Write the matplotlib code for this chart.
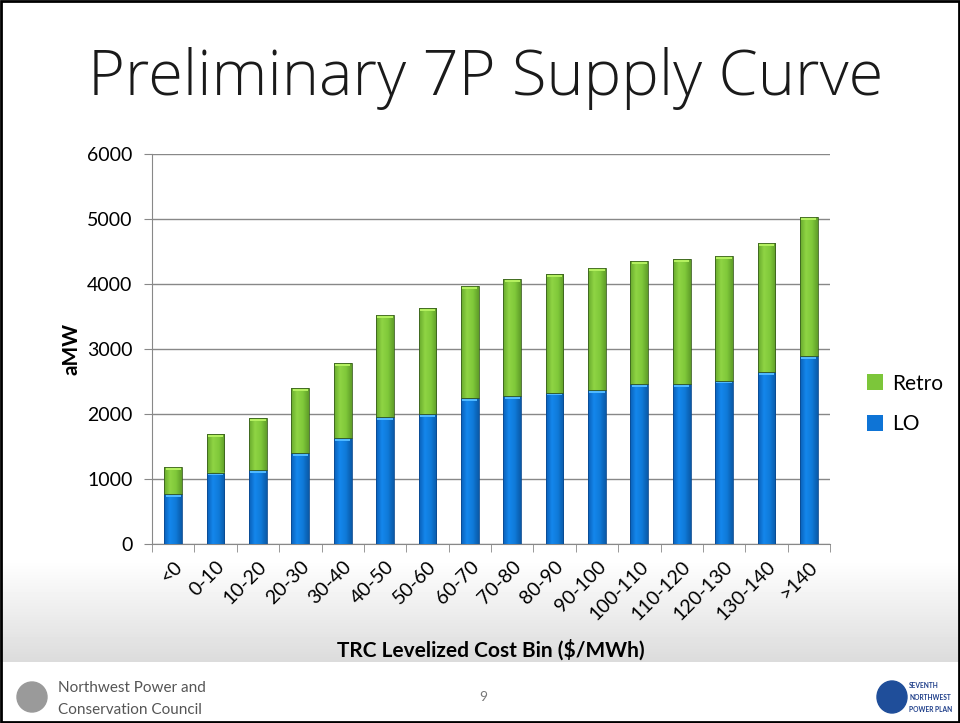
import numpy as np
import matplotlib
matplotlib.use("Agg")
import matplotlib.pyplot as plt
from matplotlib.patches import Rectangle, Ellipse
from matplotlib.colors import LinearSegmentedColormap

categories = ["<0", "0-10", "10-20", "20-30", "30-40", "40-50", "50-60", "60-70",
              "70-80", "80-90", "90-100", "100-110", "110-120", "120-130", "130-140", ">140"]
lo = [770, 1100, 1140, 1395, 1636, 1960, 2000, 2240, 2280, 2330, 2370, 2460, 2465, 2515, 2650, 2890]
total = [1185, 1687, 1933, 2395, 2780, 3523, 3626, 3974, 4072, 4149, 4251, 4359, 4380, 4431, 4636, 5036]
retro = [t - l for t, l in zip(total, lo)]
yticks = [0, 1000, 2000, 3000, 4000, 5000, 6000]

FONT = ["Lato", "DejaVu Sans"]
plt.rcParams["font.family"] = FONT

W, H = 960, 723
fig = plt.figure(figsize=(W / 100, H / 100), dpi=100)

# background with gradient band
bg = fig.add_axes([0, 0, 1, 1], zorder=-10)
bg.set_axis_off()
rows = np.ones((H, 1))
for r in range(H):
    if 560 <= r < 662:
        t = (r - 560) / (662 - 560)
        rows[r, 0] = 1 - 0.14 * t
cm_gray = LinearSegmentedColormap.from_list("g", ["black", "white"])
bg.imshow(rows, aspect="auto", cmap=cm_gray, vmin=0, vmax=1, extent=[0, 1, 0, 1], origin="upper")
bg.set_xlim(0, 1)
bg.set_ylim(0, 1)

# main axes
ax = fig.add_axes([152 / W, 1 - 544 / H, (830 - 152) / W, (544 - 154) / H])
ax.set_facecolor("none")
x = np.arange(len(categories))
width = 0.42
b_lo = ax.bar(x, lo, width, color="#0e74d6", label="LO", zorder=3)
b_re = ax.bar(x, retro, width, bottom=lo, color="#7cc63a", label="Retro", zorder=3)

blue_cm = LinearSegmentedColormap.from_list("b", ["#0a5fb8", "#1487ec", "#0f7ad9", "#0a5aa8"])
green_cm = LinearSegmentedColormap.from_list("gr", ["#67a92c", "#8fd444", "#80c93a", "#5f9e28"])
grad = np.linspace(0, 1, 64).reshape(1, -1)
for bars, cmap, cap in ((b_lo, blue_cm, "#4fb8ff"), (b_re, green_cm, "#b4f060")):
    for p in bars:
        x0, y0 = p.get_x(), p.get_y()
        w, h = p.get_width(), p.get_height()
        im = ax.imshow(grad, aspect="auto", cmap=cmap, extent=[x0, x0 + w, y0, y0 + h], zorder=4)
        im.set_clip_path(p)
        ax.add_patch(Rectangle((x0 + 0.03, y0 + h - 45), w - 0.06, 40, color=cap, zorder=5, lw=0))
        ax.add_patch(Rectangle((x0, y0), w, h, fill=False, ec="#3a5f1f" if cmap is green_cm else "#0a4a90",
                               lw=0.6, zorder=6))

ax.set_xlim(-0.5, len(categories) - 0.5)
ax.set_ylim(0, 6000)
ax.set_yticks(yticks)
ax.set_yticklabels([str(v) for v in yticks], fontsize=14)
ax.grid(axis="y", color="#888888", lw=1, zorder=0)
ax.set_axisbelow(True)
ax.set_xticks(x)
ax.set_xticklabels(categories, rotation=45, ha="right", rotation_mode="anchor", fontsize=14)
ax.tick_params(axis="x", length=0, pad=10)
ax.set_xticks(np.arange(-0.5, len(categories), 1), minor=True)
ax.tick_params(axis="x", which="minor", length=6, color="#888888", direction="out")
ax.tick_params(axis="y", length=6, color="#888888", direction="out", pad=8)
for s in ["top", "right"]:
    ax.spines[s].set_visible(False)
for s in ["left", "bottom"]:
    ax.spines[s].set_color("#888888")
ax.set_ylabel("aMW", fontsize=15, fontweight="bold", labelpad=4)
ax.set_xlabel("TRC Levelized Cost Bin ($/MWh)", fontsize=15, fontweight="bold", labelpad=12)

# legend
handles, labels = ax.get_legend_handles_labels()
leg = fig.legend(handles[::-1], labels[::-1], loc="center left", bbox_to_anchor=(848 / W, 1 - 404 / H),
                 frameon=False, fontsize=15, handlelength=0.8, handleheight=0.8, labelspacing=1.0,
                 handletextpad=0.4)

# title
fig.text(486 / W, 1 - 78 / H, "Preliminary 7P Supply Curve", ha="center", va="center",
         fontsize=45.5, fontweight=300, family=["Open Sans", "DejaVu Sans"], color="#1a1a1a")

# footer
fig.patches.append(Ellipse((32 / W, 1 - 697 / H), 30 / W, 30 / H, transform=fig.transFigure,
                           color="#9a9a9a", zorder=5))
fig.text(58 / W, 1 - 688 / H, "Northwest Power and", fontsize=11, color="#555555", va="center")
fig.text(58 / W, 1 - 710 / H, "Conservation Council", fontsize=11, color="#555555", va="center")
fig.text(483 / W, 1 - 697 / H, "9", fontsize=10, color="#777777", ha="center", va="center")
fig.patches.append(Ellipse((892 / W, 1 - 697 / H), 30 / W, 32 / H, transform=fig.transFigure,
                           color="#1f4e9a", zorder=5))
for yy, txt in ((685, "SEVENTH"), (697, "NORTHWEST"), (709, "POWER PLAN")):
    fig.text(909 / W, 1 - yy / H, txt, fontsize=4.8, color="#1f3f8a", ha="left", va="center",
             fontweight="bold")

# slide border
fig.patches.append(Rectangle((0.001, 0.001), 0.998, 0.998, transform=fig.transFigure,
                             fill=False, ec="black", lw=2, zorder=10))

fig.savefig("out.png", dpi=100)
